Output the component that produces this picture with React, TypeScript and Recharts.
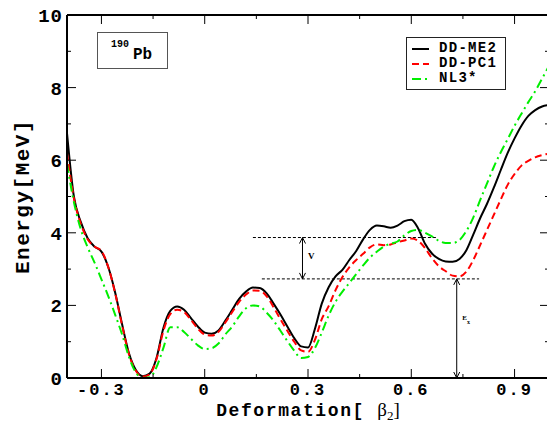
import React from 'react';
import { LineChart, Line, XAxis, YAxis, Legend, ReferenceLine, Label } from 'recharts';

// deformation grid
const beta2 = [
  -0.4, -0.38, -0.36, -0.34, -0.32, -0.3, -0.28, -0.26, -0.24, -0.22, -0.2, -0.18, -0.16, -0.14, -0.12, -0.1,
  -0.08, -0.06, -0.04, -0.02, 0, 0.02, 0.04, 0.06, 0.08, 0.1, 0.12, 0.14, 0.16, 0.18, 0.2, 0.22, 0.24, 0.26,
  0.28, 0.3, 0.32, 0.34, 0.36, 0.38, 0.4, 0.42, 0.44, 0.46, 0.48, 0.5, 0.52, 0.54, 0.56, 0.58, 0.6, 0.62, 0.64,
  0.66, 0.68, 0.7, 0.72, 0.74, 0.76, 0.78, 0.8, 0.82, 0.84, 0.86, 0.88, 0.9, 0.92, 0.94, 0.96, 0.98, 1.0,
];

const ddme2 = [
  6.75, 5.0, 4.3, 3.85, 3.62, 3.48, 3.05, 2.35, 1.48, 0.68, 0.22, 0.05, 0.12, 0.55, 1.38, 1.85,
  1.97, 1.88, 1.65, 1.42, 1.25, 1.22, 1.31, 1.58, 1.88, 2.18, 2.38, 2.49, 2.48, 2.33, 2.05, 1.75, 1.42, 1.1,
  0.87, 0.84, 1.35, 2.05, 2.5, 2.8, 2.98, 3.25, 3.5, 3.82, 4.08, 4.2, 4.18, 4.14, 4.2, 4.32, 4.36, 4.12, 3.7,
  3.43, 3.28, 3.21, 3.2, 3.28, 3.52, 3.95, 4.4, 4.8, 5.25, 5.73, 6.2, 6.6, 6.95, 7.22, 7.38, 7.48, 7.52,
];

const ddpc1 = [
  6.2, 4.95, 4.25, 3.82, 3.62, 3.5, 3.05, 2.33, 1.45, 0.65, 0.2, 0.04, 0.1, 0.52, 1.3, 1.76,
  1.88, 1.82, 1.6, 1.36, 1.2, 1.17, 1.27, 1.53, 1.82, 2.1, 2.3, 2.41, 2.4, 2.25, 1.95, 1.62, 1.3, 1.0,
  0.76, 0.72, 1.05, 1.62, 1.98, 2.42, 2.78, 3.05, 3.25, 3.42, 3.6, 3.68, 3.66, 3.68, 3.74, 3.79, 3.84, 3.78, 3.58,
  3.3, 3.08, 2.94, 2.82, 2.8, 2.93, 3.25, 3.66, 4.08, 4.5, 4.92, 5.32, 5.62, 5.85, 5.98, 6.08, 6.14, 6.18,
];

const nl3star = [
  5.9, 4.85, 4.1, 3.6, 3.18, 2.72, 2.25, 1.74, 1.2, 0.58, 0.15, 0.0, 0.02, 0.3, 0.83, 1.4,
  1.4, 1.27, 1.08, 0.9, 0.8, 0.82, 0.95, 1.2, 1.42, 1.7, 1.92, 2.0, 1.97, 1.8, 1.58, 1.3, 1.02, 0.75,
  0.55, 0.58, 0.82, 1.25, 1.72, 2.1, 2.38, 2.62, 2.86, 3.1, 3.32, 3.48, 3.62, 3.7, 3.76, 3.93, 4.05, 4.08, 4.0,
  3.9, 3.78, 3.72, 3.72, 3.8, 4.05, 4.42, 4.9, 5.36, 5.82, 6.22, 6.58, 6.95, 7.28, 7.6, 7.9, 8.25, 8.6,
];

const xTicks = [-0.3, -0.15, 0, 0.15, 0.3, 0.45, 0.6, 0.75, 0.9];
const xTickLabels: Record<string, string> = { '-0.3': '-0.3', '0': '0', '0.3': '0.3', '0.6': '0.6', '0.9': '0.9' };
const yTicks = [0, 1, 2, 3, 4, 5, 6, 7, 8, 9, 10];
const yTickLabels: Record<string, string> = { '0': '0', '2': '2', '4': '4', '6': '6', '8': '8', '10': '10' };

const series = [
  { key: 'ddme2', name: 'DD-ME2', color: '#000000', dash: undefined as string | undefined },
  { key: 'ddpc1', name: 'DD-PC1', color: '#ff0000', dash: '7 4' },
  { key: 'nl3star', name: 'NL3*', color: '#00ee00', dash: '9 4 2 4' },
];

// annotation levels (barrier top, second minimum)
const barrierTop = 3.87;
const secondMin = 2.73;

const data = beta2.map((b, i) => ({ b, ddme2: ddme2[i], ddpc1: ddpc1[i], nl3star: nl3star[i] }));

const MONO = "'Liberation Mono', 'DejaVu Sans Mono', monospace";
const SERIF = "'Liberation Serif', 'DejaVu Serif', serif";

const XTickBottom = (props: any) => {
  const { x, y, payload } = props;
  const label = xTickLabels[String(payload.value)];
  return (
    <g>
      <line x1={x} x2={x} y1={y} y2={y - (label ? 9 : 4)} stroke="#000" strokeWidth={1} />
      {label && (
        <text x={x} y={y + 17} textAnchor="middle" fontFamily={MONO} fontWeight="bold" fontSize={17} letterSpacing={2}>
          {label}
        </text>
      )}
    </g>
  );
};

const XTickTop = (props: any) => {
  const { x, y, payload } = props;
  const major = xTickLabels[String(payload.value)];
  return <line x1={x} x2={x} y1={y} y2={y + (major ? 9 : 4)} stroke="#000" strokeWidth={1} />;
};

const YTickLeft = (props: any) => {
  const { x, y, payload } = props;
  const label = yTickLabels[String(payload.value)];
  return (
    <g>
      <line x1={x} x2={x + (label ? 9 : 4)} y1={y} y2={y} stroke="#000" strokeWidth={1} />
      {label && (
        <text x={x - 4} y={y + 7} textAnchor="end" fontFamily={MONO} fontWeight="bold" fontSize={19} letterSpacing={1}>
          {label}
        </text>
      )}
    </g>
  );
};

const YTickRight = (props: any) => {
  const { x, y, payload } = props;
  const major = yTickLabels[String(payload.value)];
  return <line x1={x} x2={x - (major ? 9 : 4)} y1={y} y2={y} stroke="#000" strokeWidth={1} />;
};

const XTitle = (props: any) => {
  const { x, y, width } = props.viewBox;
  return (
    <text x={x + width / 2} y={y + 37.5} textAnchor="middle" fontSize={18}>
      <tspan fontFamily={MONO} fontWeight="bold" letterSpacing={1.6}>Deformation[ </tspan>
      <tspan fontFamily={SERIF} fontSize={19}>β</tspan>
      <tspan fontFamily={SERIF} fontSize={13} dy={4}>2</tspan>
      <tspan fontFamily={SERIF} fontSize={19} dy={-4}>]</tspan>
    </text>
  );
};

const YTitle = (props: any) => {
  const { x, y, height } = props.viewBox;
  const cx = x - 37;
  const cy = y + height / 2;
  return (
    <text
      x={cx}
      y={cy}
      transform={`rotate(-90, ${cx}, ${cy})`}
      textAnchor="middle"
      fontFamily={MONO}
      fontWeight="bold"
      fontSize={21}
      letterSpacing={1.5}
    >
      Energy[MeV]
    </text>
  );
};

const arrowShape = (main: string, sub?: string) => (p: any) => {
  const { x1, y1, y2 } = p;
  const top = Math.min(y1, y2);
  const bot = Math.max(y1, y2);
  const mid = (top + bot) / 2;
  return (
    <g>
      <line x1={x1} x2={x1} y1={top} y2={bot} stroke="#000" strokeWidth={1} />
      <path d={`M${x1 - 3},${top + 6} L${x1},${top} L${x1 + 3},${top + 6}`} fill="none" stroke="#000" />
      <path d={`M${x1 - 3},${bot - 6} L${x1},${bot} L${x1 + 3},${bot - 6}`} fill="none" stroke="#000" />
      {sub ? (
        <text x={x1 + 5.5} y={mid - 8} fontFamily={SERIF} fontWeight="bold" fontSize={7}>
          {main}
          <tspan dy={4} fontSize={6}>{sub}</tspan>
        </text>
      ) : (
        <text x={x1 + 5.5} y={mid + 1} fontFamily={SERIF} fontWeight="bold" fontSize={9}>
          {main}
        </text>
      )}
    </g>
  );
};

const LegendBox = () => (
  <div
    style={{
      border: '1px solid #222',
      background: '#fff',
      width: 100,
      height: 53,
      boxSizing: 'border-box',
      paddingTop: 3,
    }}
  >
    {series.map((s) => (
      <div key={s.key} style={{ display: 'flex', alignItems: 'center', height: 15 }}>
        <svg width={32} height={15}>
          <line x1={5} x2={22} y1={8} y2={8} stroke={s.color} strokeWidth={2} strokeDasharray={s.dash} />
        </svg>
        <span style={{ fontFamily: MONO, fontWeight: 'bold', fontSize: 14, lineHeight: '15px', letterSpacing: 1.3 }}>
          {s.name}
        </span>
      </div>
    ))}
  </div>
);

export default function App() {
  return (
    <div style={{ position: 'absolute', left: 0, top: 0, width: 547, height: 430, overflow: 'hidden', background: '#fff' }}>
      <LineChart width={560} height={430} data={data} margin={{ top: 14, right: 10, bottom: 51, left: 66 }}>
        <XAxis
          dataKey="b"
          type="number"
          domain={[-0.4, 1.0]}
          ticks={xTicks}
          allowDataOverflow
          height={1}
          tickSize={0}
          tickMargin={0}
          tick={<XTickBottom />}
          axisLine={{ stroke: '#000', strokeWidth: 2 }}
          tickLine={false}
          interval={0}
        >
          <Label content={<XTitle />} />
        </XAxis>
        <XAxis
          xAxisId="top"
          orientation="top"
          dataKey="b"
          type="number"
          domain={[-0.4, 1.0]}
          ticks={xTicks}
          allowDataOverflow
          height={1}
          tickSize={0}
          tickMargin={0}
          tick={<XTickTop />}
          axisLine={{ stroke: '#000', strokeWidth: 2 }}
          tickLine={false}
          interval={0}
        />
        <YAxis
          type="number"
          domain={[0, 10]}
          ticks={yTicks}
          allowDataOverflow
          width={1}
          tickSize={0}
          tickMargin={0}
          tick={<YTickLeft />}
          axisLine={{ stroke: '#000', strokeWidth: 2 }}
          tickLine={false}
          interval={0}
        >
          <Label content={<YTitle />} />
        </YAxis>
        <YAxis
          yAxisId="right"
          orientation="right"
          type="number"
          domain={[0, 10]}
          ticks={yTicks}
          allowDataOverflow
          width={1}
          tickSize={0}
          tickMargin={0}
          tick={<YTickRight />}
          axisLine={{ stroke: '#000', strokeWidth: 2 }}
          tickLine={false}
          interval={0}
        />
        <ReferenceLine
          segment={[{ x: 0.14, y: barrierTop }, { x: 0.672, y: barrierTop }]}
          stroke="#000"
          strokeWidth={1}
          strokeDasharray="3 2"
        />
        <ReferenceLine
          segment={[{ x: 0.166, y: secondMin }, { x: 0.797, y: secondMin }]}
          stroke="#000"
          strokeWidth={1}
          strokeDasharray="3 2"
        />
        <ReferenceLine
          segment={[{ x: 0.284, y: secondMin }, { x: 0.284, y: barrierTop }]}
          shape={arrowShape('V')}
        />
        <ReferenceLine
          segment={[{ x: 0.732, y: 0 }, { x: 0.732, y: secondMin }]}
          shape={arrowShape('E', 'x')}
        />
        {series.map((s) => (
          <Line
            key={s.key}
            dataKey={s.key}
            name={s.name}
            type="monotone"
            stroke={s.color}
            strokeWidth={2}
            strokeDasharray={s.dash}
            dot={false}
            activeDot={false}
            isAnimationActive={false}
          />
        ))}
        <Legend
          layout="vertical"
          align="center"
          verticalAlign="middle"
          content={<LegendBox />}
          wrapperStyle={{ position: 'absolute', left: 406, top: 37, width: 100 }}
        />
      </LineChart>
      <div
        style={{
          position: 'absolute',
          left: 97,
          top: 32,
          width: 71,
          height: 37,
          border: '1px solid #555',
          boxSizing: 'border-box',
          background: '#fff',
        }}
      >
        <span style={{ position: 'absolute', left: 13, top: 6, fontFamily: MONO, fontWeight: 'bold', fontSize: 10 }}>190</span>
        <span style={{ position: 'absolute', left: 35, top: 13, fontFamily: MONO, fontWeight: 'bold', fontSize: 16 }}>Pb</span>
      </div>
    </div>
  );
}
